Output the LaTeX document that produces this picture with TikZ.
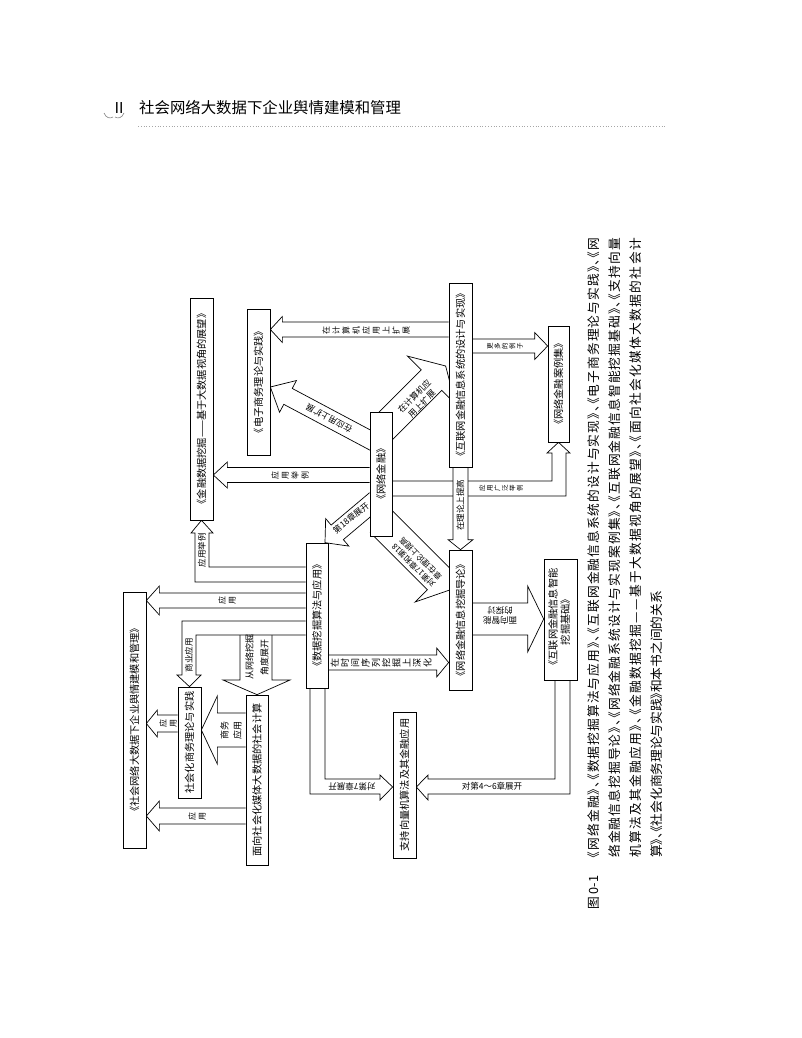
\documentclass[tikz,border=0pt]{standalone}
\usepackage{fontspec}
\setmainfont{Noto Sans CJK SC}
\newfontfamily\capfont[RawFeature=+halt]{Noto Sans CJK SC}
\usetikzlibrary{calc}
\pgfdeclarelayer{background}
\pgfsetlayers{background,main}
\tikzset{
  box/.style={draw, line width=0.7pt, fill=white, inner sep=0pt, font=\fontsize{10.2}{12}\selectfont},
  barr/.style={draw, line width=0.7pt, fill=white, line join=miter},
  lab/.style={inner sep=0pt, align=center, font=\fontsize{8.5}{10.5}\selectfont},
  vl/.style={rotate=90, inner sep=0pt, align=center, font=\fontsize{8}{10}\selectfont},
  vls/.style={rotate=90, inner sep=0pt, align=center, font=\fontsize{6.5}{7.5}\selectfont},
  capl/.style={rotate=90, anchor=west, inner sep=0pt, font=\capfont\fontsize{12.7}{13}\selectfont},
}
\def\spreadx#1{\ifx#1\relax\else#1\hskip 0pt plus 1fil\expandafter\spreadx\fi}
\newcommand\capline[1]{\makebox[621pt][s]{\spreadx #1\relax}}
\newcommand\bx[6]{\node[box, minimum width=#4pt, minimum height=#5pt] (#1) at (#2,#3) {\rotatebox{90}{#6}};}
\newcommand\barrow[5]{%
  \coordinate (bS) at #1; \coordinate (bE) at #2;
  \coordinate (bH) at ($(bE)!#5!(bS)$);
  \draw[barr] ($(bS)!#3!90:(bE)$) -- ($(bH)!#3!-90:(bS)$) -- ($(bH)!#4!-90:(bS)$) -- (bE)
     -- ($(bH)!#4!90:(bS)$) -- ($(bH)!#3!90:(bS)$) -- ($(bS)!#3!-90:(bE)$);}
\begin{document}
\begin{tikzpicture}[x=1pt,y=-1pt]
\useasboundingbox (0,0) rectangle (802,1038);
% header
\node[inner sep=0pt, font=\fontsize{15}{16}\selectfont] (hn) at (119,108) {Ⅱ};
\node[inner sep=0pt, anchor=west, font=\fontsize{15.4}{16}\selectfont] (ht) at (139,108) {社会网络大数据下企业舆情建模和管理};
\draw[gray, line width=0.6pt] (104,113) .. controls (106,118) and (110,119) .. (113,117);
\draw[gray, line width=0.6pt] (115,117) .. controls (118,119) and (122,118) .. (124,113);
\draw[gray!70, dotted, line width=0.8pt] (138,126) -- (665,126);
% boxes
\bx{F}{201.5}{409}{23}{222}{《金融数据挖掘——基于大数据视角的展望》}
\bx{E}{258.5}{382}{23}{146}{《电子商务理论与实践》}
\bx{I}{460.5}{375}{23}{184}{《互联网金融信息系统的设计与实现》}
\bx{C}{558.5}{384}{21}{116}{《网络金融案例集》}
\bx{N}{381}{474}{22}{124}{《网络金融》}
\bx{D}{317}{615.5}{22}{145}{《数据挖掘算法与应用》}
\bx{G}{460.5}{620}{23}{140}{《网络金融信息挖掘导论》}
\bx{J}{560.5}{619.5}{33}{121}{\begin{tabular}{@{}c@{}}《互联网金融信息智能\\挖掘基础》\end{tabular}}
\bx{S}{404.5}{785}{23}{146}{支持向量机算法及其金融应用}
\bx{M}{257}{780}{22}{170}{面向社会化媒体大数据的社会计算}
\bx{B}{189.5}{742.5}{23}{111}{社会化商务理论与实践}
\bx{T}{134.5}{720}{23}{256}{《社会网络大数据下企业舆情建模和管理》}
% arrows
\begin{pgfonlayer}{background}
\barrow{(I.west |- 0,329.5)}{(E.east |- 0,329.5)}{7.5pt}{13pt}{12pt}
\barrow{($(N.west)+(6,-31)$)}{(E.east |- 0,387)}{9pt}{18pt}{20pt}
\barrow{($(N.north)+(0,19)$)}{($(I.west)+(-3,-9)$)}{14.5pt}{34pt}{20pt}
\barrow{($(N.south)+(0,-15)$)}{($(G.west)+(1,-30)$)}{15.5pt}{33pt}{16pt}
\barrow{($(N.west)+(6,26)$)}{($(D.north)+(8,0)$)}{9.5pt}{18pt}{16pt}
\barrow{(N.west |- 0,475)}{(F.east |- 0,475)}{7.5pt}{13pt}{14pt}
\barrow{(I.east |- 0,346)}{(C.west |- 0,346)}{7pt}{13.5pt}{13pt}
\draw[barr] (N.east |- 0,481) -- (552,481) -- (552,453) -- (547,453) -- (C.south) -- (570,453) -- (566,453) -- (566,496) -- (N.east |- 0,496);
\barrow{(I.south)}{(G.north)}{7.5pt}{12.5pt}{10pt}
\barrow{(D.east |- 0,662.5)}{(G.west |- 0,662.5)}{7.5pt}{14.5pt}{12pt}
\barrow{(G.east |- 0,619)}{(J.west |- 0,619)}{16pt}{33pt}{16pt}
\draw[barr] (555,0 |- J.south) -- (555,779) -- (428,779) -- (428,775) -- (S.east |- 0,787) -- (428,800) -- (428,794) -- (570,794) -- (570,0 |- J.south);
\draw[barr] (310,0 |- D.south) -- (310,794) -- (380,794) -- (380,800) -- (S.west |- 0,787) -- (380,775) -- (380,779) -- (325,779) -- (325,0 |- D.south);
\draw[barr] (D.west |- 0,567) -- (209,567) -- (209,533) -- (213,533) -- (F.south) -- (191,533) -- (195,533) -- (195,582) -- (D.west |- 0,582);
\barrow{(D.west |- 0,600.5)}{(T.east |- 0,600.5)}{7.5pt}{14.5pt}{13pt}
\draw[barr] (240,635) -- (240,680) -- (223,680) -- (M.north) -- (290,680) -- (272,680) -- (272,635);
\draw[barr] (D.west |- 0,621) -- (182,621) -- (182,675) -- (177,675) -- (B.north) -- (201,675) -- (196,675) -- (196,635) -- (D.west |- 0,635);
\barrow{(M.west |- 0,730)}{(B.east |- 0,730)}{17pt}{34pt}{16pt}
\barrow{(B.west |- 0,723.5)}{(T.east |- 0,723.5)}{8.5pt}{13.5pt}{11pt}
\barrow{(M.west |- 0,816)}{(T.east |- 0,816)}{8pt}{15pt}{13pt}
\end{pgfonlayer}
% labels
\node[vl] (la) at (366,330) {在\\计\\算\\机\\应\\用\\上\\扩\\展};
\node[lab, rotate=152] (lb) at (329,418) {在应用上扩展};
\node[lab, rotate=45] (lc) at (418,400) {在计算机应\\用上扩展};
\node[lab, rotate=135, font=\fontsize{8}{10}\selectfont] (li) at (417,562) {对第17章和第18\\章在理论上提高};
\node[lab, rotate=39] (lh) at (351,518) {第18章展开};
\node[vl] (ld) at (290,475) {应\\用\\举\\例};
\node[vls] (lf) at (505,346) {更\\多\\的\\例\\子};
\node[vls] (le) at (501,488.5) {应\\用\\广\\泛\\举\\例};
\node[lab, rotate=90] (lg) at (460.5,505) {在理论上提高};
\node[vl, font=\fontsize{9}{10.3}\selectfont] (lm) at (381,662.5) {在\\时\\间\\序\\列\\挖\\掘\\上\\深\\化};
\node[lab, rotate=180] (lj) at (500,616) {面向智能\\的探讨};
\node[lab] (lk) at (492,786.5) {对第4～6章展开};
\node[lab, rotate=180] (ll) at (352,786.5) {对第7章展开};
\node[lab, rotate=90] (ln) at (202,550) {应用举例};
\node[vl] (lo) at (227,600.5) {应\\用};
\node[lab, rotate=90] (lp) at (189,655) {商业应用};
\node[lab, rotate=90, font=\fontsize{9}{15}\selectfont] (lq) at (257,657) {从网络挖掘\\角度展开};
\node[lab, rotate=90, font=\fontsize{9}{13}\selectfont] (lr) at (231,730) {商务\\应用};
\node[vl] (ls) at (168,723.5) {应\\用};
\node[vl] (lt) at (197,816) {应\\用};
% caption
\node[capl] (cap0) at (594,910) {图 0-1};
\node[capl] (cap1) at (594,858) {\capline{《网络金融》、《数据挖掘算法与应用》、《互联网金融信息系统的设计与实现》、《电子商务理论与实践》、《网}};
\node[capl] (cap2) at (615,858) {\capline{络金融信息挖掘导论》、《网络金融系统设计与实现案例集》、《互联网金融信息智能挖掘基础》、《支持向量}};
\node[capl] (cap3) at (636,858) {\capline{机算法及其金融应用》、《金融数据挖掘——基于大数据视角的展望》、《面向社会化媒体大数据的社会计}};
\node[capl] (cap4) at (657,858) {算》、《社会化商务理论与实践》和本书之间的关系};
\end{tikzpicture}
\end{document}
